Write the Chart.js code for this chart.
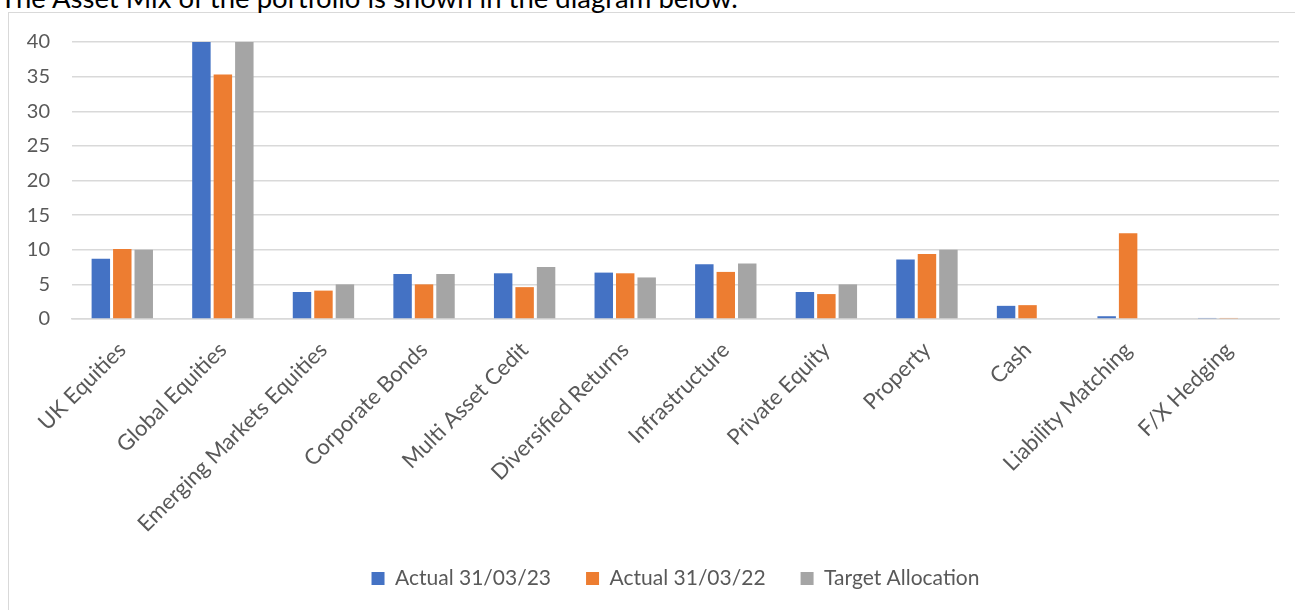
<!DOCTYPE html>
<html>
<head>
<meta charset="utf-8">
<script src="https://cdn.jsdelivr.net/npm/chart.js@4/dist/chart.umd.min.js"></script>
<style>
  body { margin: 0; background: #fff; width: 1295px; height: 610px; overflow: hidden; position: relative; }
  #title { position: absolute; left: 0; top: -16px; font-family: Lato, "Open Sans", sans-serif; font-size: 27.5px; line-height: 27px; color: #000; white-space: nowrap; }
  #box { position: absolute; left: 8px; top: 12px; width: 1300px; height: 610px; border: 1px solid #d9d9d9; box-sizing: border-box; background: #fff; }
  #wrap { position: absolute; left: 9px; top: 8px; width: 1286px; height: 602px; }
</style>
</head>
<body>
<div id="box"></div>
<div id="title">The Asset Mix of the portfolio is shown in the diagram below.</div>
<div id="wrap"><canvas id="chart1"></canvas></div>
<script>
"use strict";

const categories = [
    'UK Equities',
    'Global Equities',
    'Emerging Markets Equities',
    'Corporate Bonds',
    'Multi Asset Cedit',
    'Diversified Returns',
    'Infrastructure',
    'Private Equity',
    'Property',
    'Cash',
    'Liability Matching',
    'F/X Hedging',
];

const actual2023 = [8.7, 40, 3.9, 6.5, 6.6, 6.7, 7.9, 3.9, 8.6, 1.9, 0.4, 0.15];
const actual2022 = [10.1, 35.3, 4.1, 5.0, 4.6, 6.6, 6.8, 3.6, 9.4, 2.0, 12.4, 0.15];
const target = [10, 40, 5, 6.5, 7.5, 6, 8, 5, 10, 0, 0, 0];

const yTicks = [0, 5, 10, 15, 20, 25, 30, 35, 40];

const fontFamily = 'Lato, "Open Sans", sans-serif';

const data = {
    labels: categories,
    datasets: [{
        label: 'Actual 31/03/23',
        backgroundColor: '#4472c4',
        data: actual2023,
    }, {
        label: 'Actual 31/03/22',
        backgroundColor: '#ed7d31',
        data: actual2022,
    }, {
        label: 'Target Allocation',
        backgroundColor: '#a5a5a5',
        data: target,
    }]
};

const config = {
    type: 'bar',
    data: data,
    options: {
        responsive: true,
        maintainAspectRatio: false,
        animation: false,
        datasets: {
            bar: { categoryPercentage: 0.64, barPercentage: 0.86 }
        },
        layout: { padding: { top: 12, right: 16, left: 0, bottom: 11 } },
        plugins: {
            tooltip: { enabled: false },
            legend: {
                position: 'bottom',
                fullSize: false,
                labels: {
                    boxWidth: 13,
                    boxHeight: 13,
                    padding: 35,
                    color: '#595959',
                    font: { family: fontFamily, size: 21 }
                }
            }
        },
        scales: {
            x: {
                grid: { display: false },
                border: { color: '#d9d9d9', width: 1.5 },
                ticks: {
                    color: '#595959',
                    minRotation: 45,
                    maxRotation: 45,
                    autoSkip: false,
                    padding: 10,
                    font: { family: fontFamily, size: 22 }
                },
                afterFit: (scale) => { scale.height = 214; }
            },
            y: {
                min: 0,
                max: 40,
                afterBuildTicks: (scale) => { scale.ticks = yTicks.map(v => ({ value: v })); },
                grid: { color: '#d9d9d9', lineWidth: 1.5, drawTicks: false },
                border: { display: false },
                ticks: {
                    color: '#595959',
                    padding: 22,
                    font: { family: fontFamily, size: 20 }
                },
                afterFit: (scale) => { scale.width = 63; }
            }
        }
    }
};

const myChart = new Chart(document.getElementById('chart1'), config);
</script>
</body>
</html>
